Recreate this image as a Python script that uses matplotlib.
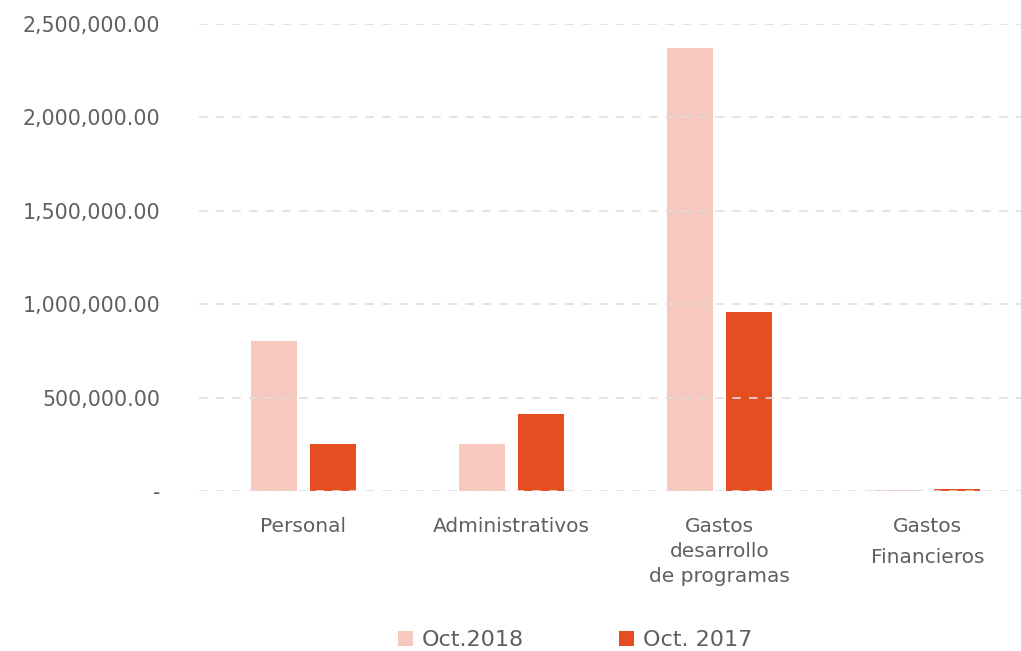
#!/usr/bin/env python
#
# Gastos por tipo, Oct.2018 vs Oct. 2017
#
import numpy as np
import matplotlib.pyplot as plt
from matplotlib.ticker import FuncFormatter

categories = ['Personal', 'Administrativos', 'Gastos\ndesarrollo\nde programas',
              'Gastos\nFinancieros']
series = ['Oct.2018', 'Oct. 2017']
values_2018 = [803000, 251000, 2371000, 5000]
values_2017 = [251500, 412000, 958000, 10000]
colors = ['#f7c9be', '#e54e21']

plt.rcParams['font.family'] = ['DejaVu Sans']
text_color = '#5f5f5f'

fig = plt.figure(figsize=(10.21, 6.51), dpi=100)
ax = fig.add_axes([199 / 1021, 1 - 491 / 651, 833 / 1021, 467 / 651])

x = np.arange(len(categories))
width = 0.221
offset = 0.142
ax.bar(x - offset, values_2018, width, color=colors[0], label=series[0], zorder=1)
ax.bar(x + offset, values_2017, width, color=colors[1], label=series[1], zorder=1)

ax.set_xlim(-0.5, 3.5)
ax.set_ylim(0, 2500000)
ax.set_yticks(np.arange(0, 2500001, 500000))
ax.yaxis.set_major_formatter(
    FuncFormatter(lambda v, p: '-' if v == 0 else f'{v:,.2f}'))
ax.grid(axis='y', color='#dedede', linestyle=(0, (5, 5)), linewidth=1.2, zorder=3)
ax.set_axisbelow(False)
for s in ax.spines.values():
    s.set_visible(False)

ax.set_xticks(x)
ax.set_xticklabels(categories, linespacing=1.38)
ax.get_xticklabels()[3].set_linespacing(1.75)
ax.tick_params(axis='x', length=0, pad=19, labelsize=14.5, colors=text_color)
ax.tick_params(axis='y', length=0, pad=28, labelsize=14.8, colors=text_color)

ax.legend(loc='center', bbox_to_anchor=(575 / 1021, 1 - 640 / 651),
          bbox_transform=fig.transFigure, ncol=2, frameon=False,
          fontsize=16, labelcolor=text_color, handlelength=0.65,
          handleheight=0.65, handletextpad=0.4, columnspacing=4.3)

fig.savefig('out.png', dpi=100)
